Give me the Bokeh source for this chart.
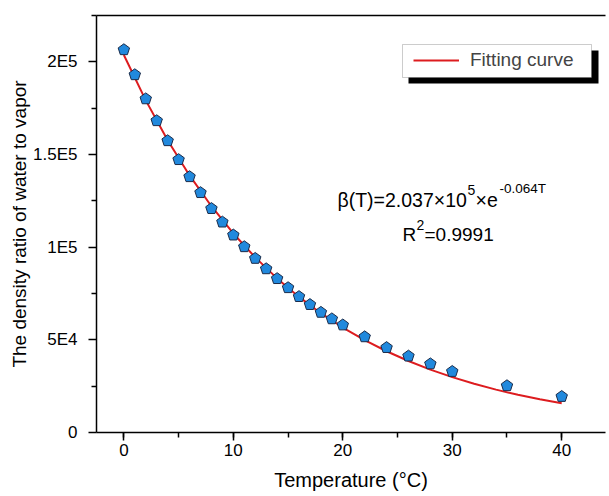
from bokeh.plotting import figure
from bokeh.models import (Range1d, LinearAxis, SingleIntervalTicker, FixedTicker,
                          Legend, LegendItem, BoxAnnotation, Label)
from bokeh.embed import file_html
from bokeh.resources import INLINE

# ---- data ----
temperature = [0, 1, 2, 3, 4, 5, 6, 7, 8, 9, 10, 11, 12, 13, 14, 15, 16, 17, 18, 19, 20,
               22, 24, 26, 28, 30, 35, 40]
density_ratio = [206500, 193000, 180000, 168200, 157400, 147200, 138000, 129400, 120800,
                 113500, 106500, 100200, 93900, 88300, 83000, 78100, 73300, 69000, 64800,
                 61300, 58000, 51600, 45800, 41200, 37000, 32900, 25200, 19400]

fit_temperature = [0, 2, 4, 6, 8, 10, 12, 14, 16, 18, 20, 22, 24, 26, 28, 30, 32, 34, 36, 38, 40]
fit_ratio = [203700, 179200, 157700, 138700, 122100, 107400, 94500, 83150, 73160, 64370,
             56640, 49830, 43840, 38580, 33940, 29860, 26280, 23120, 20340, 17900, 15750]

y_ticks = [0, 50000, 100000, 150000, 200000]
y_tick_labels = ["0", "5E4", "1E5", "1.5E5", "2E5"]
y_minor = [25000, 75000, 125000, 175000, 225000]

x_label = "Temperature (°C)"
y_label = "The density ratio of water to vapor"
legend_text = "Fitting curve"

# ---- layout ----
W, H = 609, 496
FL, FR, FT, FB = 96, 605, 15, 432
X0, X1 = -2.5, 44.0
Y0, Y1 = 0, 225000


def dx(px):
    return X0 + (px - FL) / (FR - FL) * (X1 - X0)


def dy(py):
    return Y1 - (py - FT) / (FB - FT) * (Y1 - Y0)


FONT = "Liberation Sans"

p = figure(width=W, height=H, output_backend="svg", toolbar_location=None,
           x_range=Range1d(X0, X1), y_range=Range1d(Y0, Y1),
           min_border_left=FL, min_border_right=W - FR, min_border_top=FT,
           min_border_bottom=H - FB, x_axis_location="below", y_axis_location="left")
p.grid.visible = False
p.outline_line_color = None
p.background_fill_color = "white"
p.border_fill_color = "white"

xa = p.xaxis[0]
xa.ticker = SingleIntervalTicker(interval=10, num_minor_ticks=2)
ya = p.yaxis[0]
ya.ticker = FixedTicker(ticks=y_ticks, minor_ticks=y_minor)
ya.major_label_overrides = {t: l for t, l in zip(y_ticks, y_tick_labels)}

for ax in (xa, ya):
    ax.axis_line_color = "black"
    ax.axis_line_width = 1.5
    ax.major_tick_line_color = "black"
    ax.major_tick_line_width = 1.5
    ax.minor_tick_line_color = "black"
    ax.minor_tick_line_width = 1.5
    ax.major_tick_in = 0
    ax.major_tick_out = 8
    ax.minor_tick_in = 0
    ax.minor_tick_out = 5
    ax.major_label_text_font = FONT
    ax.major_label_text_font_size = "17px"
    ax.major_label_text_color = "black"
    ax.axis_label_text_font = FONT
    ax.axis_label_text_font_style = "normal"
    ax.axis_label_text_color = "black"

xa.axis_label = x_label
xa.axis_label_text_font_size = "20px"
xa.major_label_standoff = 3
xa.axis_label_standoff = 10
ya.axis_label = y_label
ya.axis_label_text_font_size = "19px"
ya.major_label_standoff = 11
ya.axis_label_standoff = 0

top = LinearAxis(ticker=FixedTicker(ticks=[]), axis_line_color="black", axis_line_width=1.5,
                 major_tick_out=0, minor_tick_out=0, major_label_text_font_size="0px")
p.add_layout(top, "above")

# ---- data ----
fit = p.line(fit_temperature, fit_ratio, line_color="#dd1c1f", line_width=2)
p.ngon(x=temperature, y=density_ratio, radius=6, radius_units="screen", n=5,
       fill_color="#2189dd", line_color="#1b2c4a", line_width=1)

# ---- legend (shadowed box) ----
shadow = BoxAnnotation(left=dx(408), right=dx(598), top=dy(50), bottom=dy(83),
                       fill_color="black", fill_alpha=1, line_color=None)
box = BoxAnnotation(left=dx(402), right=dx(591), top=dy(44), bottom=dy(77),
                    fill_color="white", fill_alpha=1, line_color="#555555", line_width=1)
p.add_layout(shadow)
p.add_layout(box)
legend = Legend(items=[LegendItem(label=legend_text, renderers=[fit])],
                location=(413 - FL - 4, FB - 77 + 2), padding=4, glyph_width=46,
                label_standoff=11, label_text_font=FONT, label_text_font_size="19px",
                border_line_alpha=0, background_fill_alpha=0, margin=0)
p.add_layout(legend, "center")

# ---- formula annotation ----
SHIFT = 8


def lab(text, px, py, size):
    p.add_layout(Label(x=dx(px), y=dy(py - SHIFT), text=text, text_font=FONT,
                       text_font_size=size, text_color="black",
                       text_baseline="alphabetic", text_align="left"))


lab("β(T)=2.037×10", 337, 207, "19.5px")
lab("5", 467, 197, "14px")
lab("×e", 475, 207, "19.5px")
lab("-0.064T", 499, 196, "13.5px")
lab("R", 402, 242, "19px")
lab("2", 416, 232, "14px")
lab("=0.9991", 424, 242, "19px")

open("out.html", "w").write(file_html(p, INLINE))
